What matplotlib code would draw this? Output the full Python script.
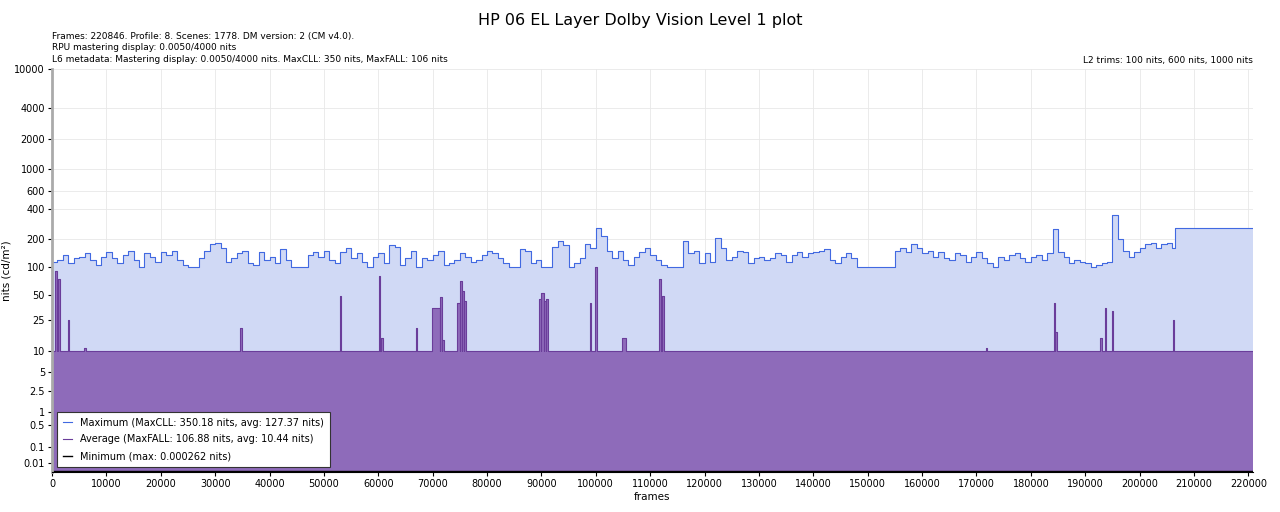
import numpy as np
import matplotlib
matplotlib.use("Agg")
import matplotlib.pyplot as plt

TOTAL_FRAMES = 220846
SEG = 1000
# Per-1000-frame maximum (MaxCLL per scene approximations), nits
max_vals = [
    115,120,135,110,125,130,140,120,105,130,
    145,125,110,135,150,120,100,140,130,115,
    145,135,150,120,105,100,100,125,150,175,
    180,160,115,125,140,150,110,105,145,120,
    130,110,155,120,100,100,100,135,145,130,
    150,120,110,145,160,125,140,115,100,130,
    140,110,170,165,105,125,150,100,125,120,
    135,150,105,110,120,140,130,115,120,135,
    150,140,125,110,100,100,155,150,110,120,
    100,100,165,190,170,100,110,125,175,160,
    260,215,150,125,150,120,105,130,145,160,
    135,120,105,100,100,100,190,140,150,110,
    140,115,205,160,120,130,150,145,110,125,
    130,120,125,140,135,115,135,145,130,140,
    145,150,155,120,110,130,140,125,100,100,
    100,100,100,100,100,150,160,145,175,160,
    140,150,130,145,125,120,140,135,115,130,
    145,125,110,100,130,120,135,140,125,115,
    130,135,120,140,250,145,130,110,120,115,
    110,100,105,110,115,350,200,150,130,145,
    160,175,180,160,175,180,160,
]
# Final long static segment
tail_start, tail_val = 206500, 255

avg_base = 10.0
# (start_frame, end_frame, nits) average spikes
avg_spikes = [
    (600, 900, 90), (900, 1100, 38), (1100, 1500, 75), (2900, 3100, 25),
    (5800, 6300, 11), (34600, 35000, 20), (52900, 53100, 48),
    (60100, 60400, 80), (60500, 60800, 15), (66900, 67200, 20),
    (69800, 71400, 35), (71400, 71700, 47), (71700, 72000, 14),
    (74500, 75000, 40), (75000, 75400, 70), (75400, 75800, 55), (75800, 76200, 42),
    (89500, 90000, 45), (90000, 90400, 52), (90400, 90800, 42), (90800, 91200, 45),
    (98900, 99100, 40), (99900, 100200, 100), (104800, 105500, 15),
    (111700, 111900, 75), (112100, 112600, 48), (171700, 172000, 11),
    (184200, 184400, 40), (184400, 184800, 18), (192700, 193000, 15),
    (193700, 193900, 35), (194900, 195100, 32), (206100, 206400, 25),
]

def pq(x):
    x = np.clip(np.asarray(x, dtype=float), 0, None) / 10000.0
    m1, m2, c1, c2, c3 = 0.1593017578125, 78.84375, 0.8359375, 18.8515625, 18.6875
    xp = x ** m1
    return ((c1 + c2 * xp) / (1 + c3 * xp)) ** m2

def ipq(v):
    v = np.clip(np.asarray(v, dtype=float), 0, 1)
    m1, m2, c1, c2, c3 = 0.1593017578125, 78.84375, 0.8359375, 18.8515625, 18.6875
    vp = v ** (1 / m2)
    return 10000.0 * (np.maximum(vp - c1, 0) / (c2 - c3 * vp)) ** (1 / m1)

edges = [i * SEG for i in range(len(max_vals))]
mx_x = np.array(edges + [tail_start, TOTAL_FRAMES], dtype=float)
mx_y = np.array(max_vals + [tail_val, tail_val], dtype=float)

pts_x = [0]
pts_y = [avg_base]
for s, e, v in avg_spikes:
    pts_x += [s, s, e, e]
    pts_y += [avg_base, v, v, avg_base]
pts_x.append(TOTAL_FRAMES)
pts_y.append(avg_base)

fig = plt.figure(figsize=(12.8, 5.12), dpi=100)
ax = fig.add_axes([52/1280, 40/512, 1201/1280, 403/512])
ax.set_yscale("function", functions=(pq, ipq))

ax.fill_between(mx_x, 0, mx_y, step="post", color="#d0d9f5", lw=0)
ax.step(mx_x, mx_y, where="post", color="#4169e1", lw=0.8,
        label="Maximum (MaxCLL: 350.18 nits, avg: 127.37 nits)")
ax.fill_between(pts_x, 0, pts_y, color="#8e6bba", lw=0)
ax.plot(pts_x, pts_y, color="#6a3d9a", lw=0.8,
        label="Average (MaxFALL: 106.88 nits, avg: 10.44 nits)")
ax.plot([0, TOTAL_FRAMES], [0.0003, 0.0003], color="black", lw=1,
        label="Minimum (max: 0.000262 nits)")

yt = [0.01, 0.1, 0.5, 1, 2.5, 5, 10, 25, 50, 100, 200, 400, 600, 1000, 2000, 4000, 10000]
ax.set_ylim(0, 10000)
ax.set_yticks(yt)
ax.set_yticklabels([str(t) for t in yt], fontsize=7)
ax.minorticks_off()
ax.set_xlim(0, 220846)
ax.set_xticks(range(0, 220001, 10000))
ax.set_xticklabels([str(t) for t in range(0, 220001, 10000)], fontsize=7)
ax.grid(True, color="#e8e8e8", lw=0.6)
ax.set_axisbelow(True)
for s in ["top", "right"]:
    ax.spines[s].set_visible(False)
ax.spines["left"].set_color("#aaaaaa")
ax.spines["left"].set_linewidth(2)
ax.tick_params(length=3, pad=2)
ax.set_xlabel("frames", fontsize=7.5, labelpad=2)
ax.set_ylabel("nits (cd/m²)", fontsize=7.5, labelpad=2)

leg = ax.legend(loc="lower left", fontsize=7, fancybox=False, framealpha=1,
                edgecolor="#333333", handlelength=1, borderpad=0.6, labelspacing=0.7)
leg.get_frame().set_linewidth(0.8)

fig.text(0.5, 1 - 20/512, "HP 06 EL Layer Dolby Vision Level 1 plot", ha="center", va="center", fontsize=11.5)
fig.text(52/1280, 1 - 37/512, "Frames: 220846. Profile: 8. Scenes: 1778. DM version: 2 (CM v4.0).", fontsize=6.5, va="center")
fig.text(52/1280, 1 - 48/512, "RPU mastering display: 0.0050/4000 nits", fontsize=6.5, va="center")
fig.text(52/1280, 1 - 60/512, "L6 metadata: Mastering display: 0.0050/4000 nits. MaxCLL: 350 nits, MaxFALL: 106 nits", fontsize=6.5, va="center")
fig.text(1253/1280, 1 - 60/512, "L2 trims: 100 nits, 600 nits, 1000 nits", fontsize=6.5, va="center", ha="right")

fig.savefig("out.png", dpi=100)
